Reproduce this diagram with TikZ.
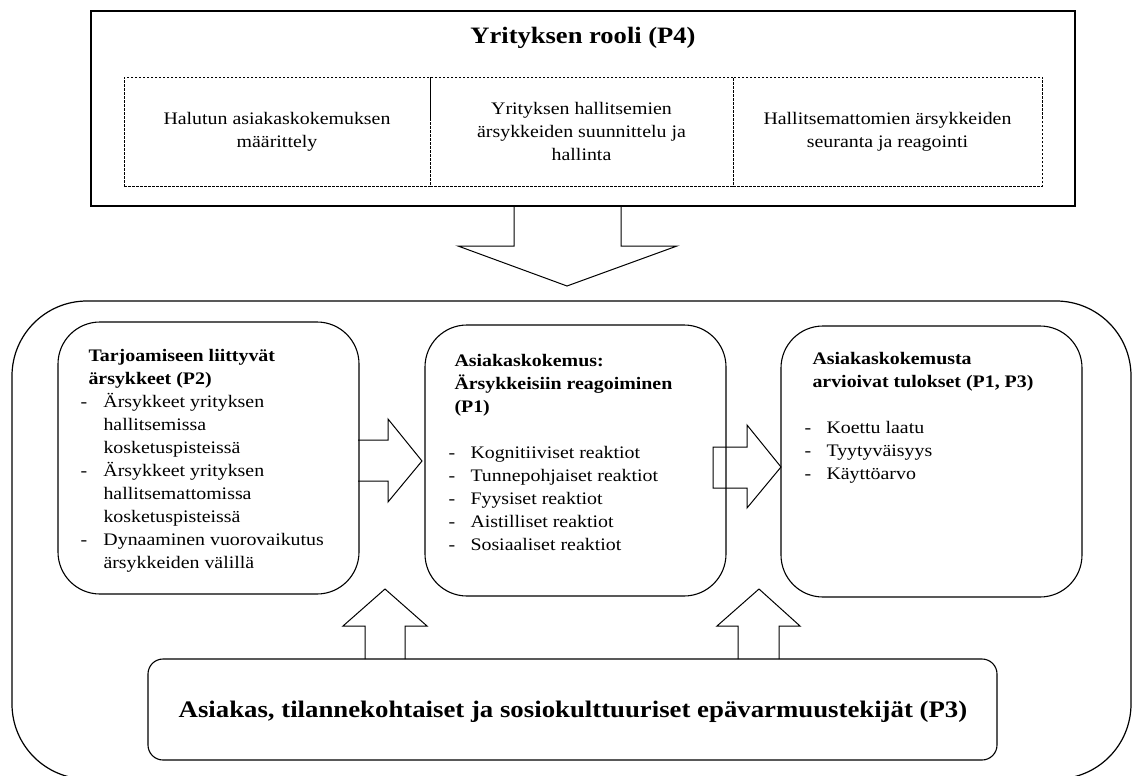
\documentclass[tikz,border=0pt]{standalone}
\usepackage{fontspec}
\setmainfont{Liberation Serif}[FakeStretch=1.13]
\usetikzlibrary{calc}

\begin{document}
\begin{tikzpicture}[x=1pt,y=-1pt,line width=1pt,
  body/.style={inner sep=0pt,font=\fontsize{17.6}{23}\selectfont},
  rolebox/.style={draw,dash pattern=on 2.5pt off 1.5pt,line width=0.8pt,
    minimum height=109pt,inner sep=0pt,body,align=center},
  panel/.style={draw,rounded corners=42pt,line width=1.1pt,
    minimum width=301pt,inner sep=0pt},
  paneltext/.style={body,align=left,anchor=north west},
  blockarrow/.style={draw,line width=1pt,line join=miter},
]
\useasboundingbox (0,0) rectangle (1133,776);

% ---- company role ----
\node[draw,line width=1.2pt,minimum width=984pt,minimum height=195pt,inner sep=0pt]
  (role) at (583,108.5) {};
\node[inner sep=0pt,font=\fontsize{23.5}{28}\selectfont\bfseries] (roletitle) at (583,38)
  {Yrityksen rooli (P4)};
\node[rolebox,minimum width=306pt] (r1) at (277,131.5)
  {Halutun asiakaskokemuksen\\määrittely};
\node[rolebox,minimum width=303pt] (r2) at (581.5,131.5)
  {Yrityksen hallitsemien\\ärsykkeiden suunnittelu ja\\hallinta};
\node[rolebox,minimum width=309pt] (r3) at (887.5,131.5)
  {Hallitsemattomien ärsykkeiden\\seuranta ja reagointi};

% role -> experience
\draw[blockarrow] (514,206) -- (514,246) -- (458,246) -- (567,286)
  -- (677,246) -- (621,246) -- (621,206);

% ---- experience frame ----
\node[draw,rounded corners=75pt,line width=1.2pt,minimum width=1119pt,
  minimum height=478pt,inner sep=0pt] (frame) at (571.5,540) {};

\node[panel,minimum height=272pt] (stim) at (208.5,458) {};
\node[panel,minimum height=271pt] (exp) at (575.5,460.5) {};
\node[panel,minimum height=271pt] (out) at (931.5,461.5) {};

\node[paneltext] (stimtext) at (80,349)
  {\hspace*{8pt}\textbf{Tarjoamiseen liittyvät}\\
   \hspace*{8pt}\textbf{ärsykkeet (P2)}\\
   \makebox[23pt][l]{-}Ärsykkeet yrityksen\\
   \hspace*{23pt}hallitsemissa\\
   \hspace*{23pt}kosketuspisteissä\\
   \makebox[23pt][l]{-}Ärsykkeet yrityksen\\
   \hspace*{23pt}hallitsemattomissa\\
   \hspace*{23pt}kosketuspisteissä\\
   \makebox[23pt][l]{-}Dynaaminen vuorovaikutus\\
   \hspace*{23pt}ärsykkeiden välillä};

\node[paneltext] (exptext) at (448,354)
  {\hspace*{6pt}\textbf{Asiakaskokemus:}\\
   \hspace*{6pt}\textbf{Ärsykkeisiin reagoiminen}\\
   \hspace*{6pt}\textbf{(P1)}\\[23pt]
   \makebox[22pt][l]{-}Kognitiiviset reaktiot\\
   \makebox[22pt][l]{-}Tunnepohjaiset reaktiot\\
   \makebox[22pt][l]{-}Fyysiset reaktiot\\
   \makebox[22pt][l]{-}Aistilliset reaktiot\\
   \makebox[22pt][l]{-}Sosiaaliset reaktiot};

\node[paneltext] (outtext) at (804,352)
  {\hspace*{8pt}\textbf{Asiakaskokemusta}\\
   \hspace*{8pt}\textbf{arvioivat tulokset (P1, P3)}\\[23pt]
   \makebox[22pt][l]{-}Koettu laatu\\
   \makebox[22pt][l]{-}Tyytyväisyys\\
   \makebox[22pt][l]{-}Käyttöarvo};

% stimuli -> experience -> outcomes
\draw[blockarrow] (358,440) -- (388,440) -- (388,419) -- (422,461)
  -- (388,502) -- (388,481) -- (358,481);
\draw[blockarrow] (713,447) -- (747,447) -- (747,425) -- (781,467)
  -- (747,508) -- (747,488) -- (713,488) -- cycle;

% ---- uncertainty factors ----
\node[draw,rounded corners=15pt,line width=1.1pt,minimum width=849pt,
  minimum height=101pt,inner sep=0pt] (ctx) at (572.5,709.5) {};
\node[inner sep=0pt,font=\fontsize{23.7}{28}\selectfont\bfseries] (ctxtext) at (573,712)
  {Asiakas, tilannekohtaiset ja sosiokulttuuriset epävarmuustekijät (P3)};

\draw[blockarrow] (365,659) -- (365,626) -- (343,626) -- (385,589)
  -- (427,626) -- (405,626) -- (405,659);
\draw[blockarrow] (738,659) -- (738,626) -- (717,626) -- (759,589)
  -- (800,626) -- (779,626) -- (779,659);
\end{tikzpicture}
\end{document}
